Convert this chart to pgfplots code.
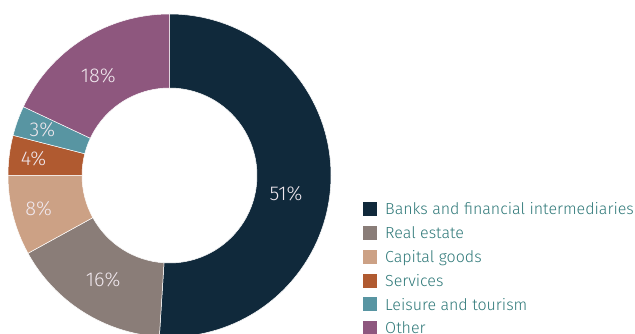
\documentclass[border=0pt]{standalone}
\usepackage{pgfplots}
\pgfplotsset{compat=1.18}
\usepackage{pgfplotstable}
\usepackage{fontspec}
\setmainfont{Fira Sans}[UprightFont=* Light]

\definecolor{banks}{HTML}{10293B}
\definecolor{realestate}{HTML}{8A7D78}
\definecolor{capital}{HTML}{CCA185}
\definecolor{services}{HTML}{B05A30}
\definecolor{leisure}{HTML}{5895A2}
\definecolor{other}{HTML}{8E577E}
\definecolor{legtext}{HTML}{2E7878}
\definecolor{lbl}{HTML}{F0E8EE}

% share (%), colour, label radius and angle shift (px), legend name
\pgfplotstableread{
value color lr shift name
51 banks 118 -7 {Banks and financial intermediaries}
16 realestate 124 0 {Real estate}
8 capital 135 0 {Capital goods}
4 services 137 0 {Services}
3 leisure 135 0 {Leisure and tourism}
18 other 123 3 {Other}
}\sectors

\begin{document}
\begin{tikzpicture}
\begin{axis}[
  width=635pt, height=334pt, scale only axis,
  hide axis, clip=false,
  xmin=-169.5, xmax=465.5, ymin=-158.5, ymax=175.5,
]
\pgfplotstablegetrowsof{\sectors}
\pgfmathtruncatemacro\nrows{\pgfplotsretval-1}
\def\angacc{90}
\pgfplotsforeachungrouped \i in {0,...,\nrows}{
  \pgfplotstablegetelem{\i}{value}\of\sectors \let\val\pgfplotsretval
  \pgfplotstablegetelem{\i}{color}\of\sectors \let\col\pgfplotsretval
  \pgfplotstablegetelem{\i}{lr}\of\sectors \let\lrad\pgfplotsretval
  \pgfplotstablegetelem{\i}{shift}\of\sectors \let\lshift\pgfplotsretval
  \pgfplotstablegetelem{\i}{name}\of\sectors \let\nam\pgfplotsretval
  \pgfmathsetmacro\angA{\angacc}
  \pgfmathsetmacro\angB{\angacc-3.6*\val}
  \pgfmathsetmacro\angM{(\angA+\angB)/2+\lshift}
  \pgfmathsetmacro\oxA{161.5*cos(\angA)}
  \pgfmathsetmacro\oyA{161.5*sin(\angA)}
  \pgfmathsetmacro\ixB{87.5*cos(\angB)}
  \pgfmathsetmacro\iyB{87.5*sin(\angB)}
  \pgfmathsetmacro\lx{\lrad*cos(\angM)}
  \pgfmathsetmacro\ly{\lrad*sin(\angM)}
  \pgfmathsetmacro\legy{175.5-209.3-23.8*\i}
  \pgfmathsetmacro\legyb{\legy-5.7}
  \edef\temp{%
    \noexpand\fill[\col, draw=white, line width=0.5pt]
      (axis cs:\oxA,\oyA) arc[start angle=\angA, end angle=\angB, radius=161.5pt]
      -- (axis cs:\ixB,\iyB) arc[start angle=\angB, end angle=\angA, radius=87.5pt] -- cycle;
    \noexpand\node[text=lbl, font=\noexpand\fontsize{20}{22}\noexpand\selectfont, inner sep=0pt]
      at (axis cs:\lx,\ly) {\val\noexpand\%};
    \noexpand\fill[\col] (axis cs:193.2,\legy-7) rectangle (axis cs:207.5,\legy+7);
    \noexpand\node[anchor=base west, text=legtext, font=\noexpand\fontsize{16}{18}\noexpand\selectfont, inner sep=0pt]
      at (axis cs:215.5,\legyb) {\nam};
  }%
  \temp
  \global\let\angacc\angB
}
\end{axis}
\pgfresetboundingbox
\useasboundingbox (current axis.south west) rectangle (current axis.north east);
\end{tikzpicture}
\end{document}
